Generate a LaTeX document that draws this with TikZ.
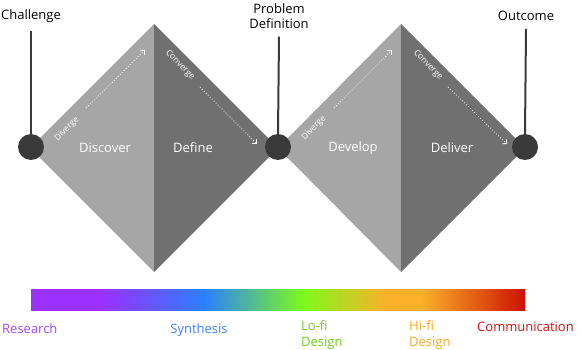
\documentclass[tikz,border=0pt]{standalone}
\usepackage{fontspec}
\setmainfont{Open Sans}
\usepackage{xcolor}
\definecolor{dlight}{RGB}{166,166,166}
\definecolor{ddark}{RGB}{112,112,112}
\definecolor{dknob}{RGB}{58,58,58}
\definecolor{cres}{RGB}{155,48,255}
\definecolor{csyn}{RGB}{43,128,255}
\definecolor{clofi}{RGB}{124,250,28}
\definecolor{chifi}{RGB}{251,176,42}
\definecolor{ccom}{RGB}{204,17,0}
\definecolor{tres}{RGB}{160,70,255}
\definecolor{tsyn}{RGB}{60,130,255}
\definecolor{tlofi}{RGB}{110,205,30}
\definecolor{thifi}{RGB}{245,170,40}
\definecolor{tcom}{RGB}{204,17,17}
\usepackage{tikz}
\usetikzlibrary{arrows.meta,positioning,calc}
\pgfdeclarehorizontalshading{spectrum}{100bp}{color(0bp)=(cres); color(25bp)=(cres); color(32bp)=(cres); color(42.5bp)=(csyn); color(52.5bp)=(clofi); color(61bp)=(chifi); color(64.5bp)=(chifi); color(75bp)=(ccom); color(100bp)=(ccom)}
\tikzset{
  knob/.style={circle, fill=dknob, minimum size=26pt, inner sep=0pt},
  stem/.style={draw=dknob, line width=2pt},
  phase/.style={text=white, font=\fontsize{13}{15}\selectfont},
  flowlbl/.style={text=white, inner sep=0pt, font=\fontsize{8.5}{9}\selectfont},
  flow/.style={white, dotted, line width=0.8pt, -{Straight Barb[length=3pt,width=6pt]}},
  tag/.style={inner sep=0pt, align=center, font=\fontsize{13}{15}\selectfont},
  band/.style={align=left, inner sep=0pt, font=\fontsize{13}{16}\selectfont}
}

\begin{document}
\begin{tikzpicture}[x=1pt, y=-1pt]
  \useasboundingbox (0,0) rectangle (581,350);
  % diamonds
  \fill[dlight] (30,148) -- (154,24) -- (154,272) -- cycle;
  \fill[ddark] (154,24) -- (278,148) -- (154,272) -- cycle;
  \fill[dlight] (278,148) -- (401,24) -- (401,272) -- cycle;
  \fill[ddark] (401,24) -- (525,148) -- (401,272) -- cycle;
  % milestones
  \node[tag] (challenge) at (31,16) {Challenge};
  \node[tag] (problem) at (279,16) {Problem\\Definition};
  \node[tag] (outcome) at (526,16) {Outcome};
  \node[knob] (k1) at (31,147) {};
  \node[knob] (k2) at (278,147) {};
  \node[knob] (k3) at (525,147) {};
  \draw[stem] ([yshift=-8pt]challenge.south) -- (k1.north);
  \draw[stem] ([yshift=-8pt]problem.south) -- (k2.north);
  \draw[stem] ([yshift=-8pt]outcome.south) -- (k3.north);
  % phases
  \node[phase] (discover) at (105,148) {Discover};
  \node[phase] (define) at (193,148) {Define};
  \node[phase] (develop) at (353,148) {Develop};
  \node[phase] (deliver) at (452,148) {Deliver};
  \node[flowlbl, rotate=45] (div1) at (67,129) {Diverge};
  \node[flowlbl, rotate=-45] (con1) at (180,65) {Converge};
  \node[flowlbl, rotate=45] (div2) at (314,128) {Diverge};
  \node[flowlbl, rotate=-45] (con2) at (428,65) {Converge};
  \coordinate (d1a) at (86,108); \coordinate (d1b) at (145,50);
  \coordinate (c1a) at (200,87); \coordinate (c1b) at (257,144);
  \coordinate (d2a) at (334,108); \coordinate (d2b) at (392,50);
  \coordinate (c2a) at (448,87); \coordinate (c2b) at (507,144);
  \draw[flow] (d1a) -- (d1b);
  \draw[flow] (c1a) -- (c1b);
  \draw[flow] (d2a) -- (d2b);
  \draw[flow] (c2a) -- (c2b);
  % fidelity bar
  \shade[shading=spectrum] (31,289) rectangle (525,310);
  \node[band, text=tres, anchor=west] (research) at (2,329) {Research};
  \node[band, text=tsyn] (synthesis) at (199,330) {Synthesis};
  \node[band, text=tlofi, anchor=north west] (lofi) at (301,320) {Lo-fi\\Design};
  \node[band, text=thifi, anchor=north west] (hifi) at (409,320) {Hi-fi\\Design};
  \node[band, text=tcom, anchor=west] (comm) at (477,327) {Communication};
\end{tikzpicture}
\end{document}
